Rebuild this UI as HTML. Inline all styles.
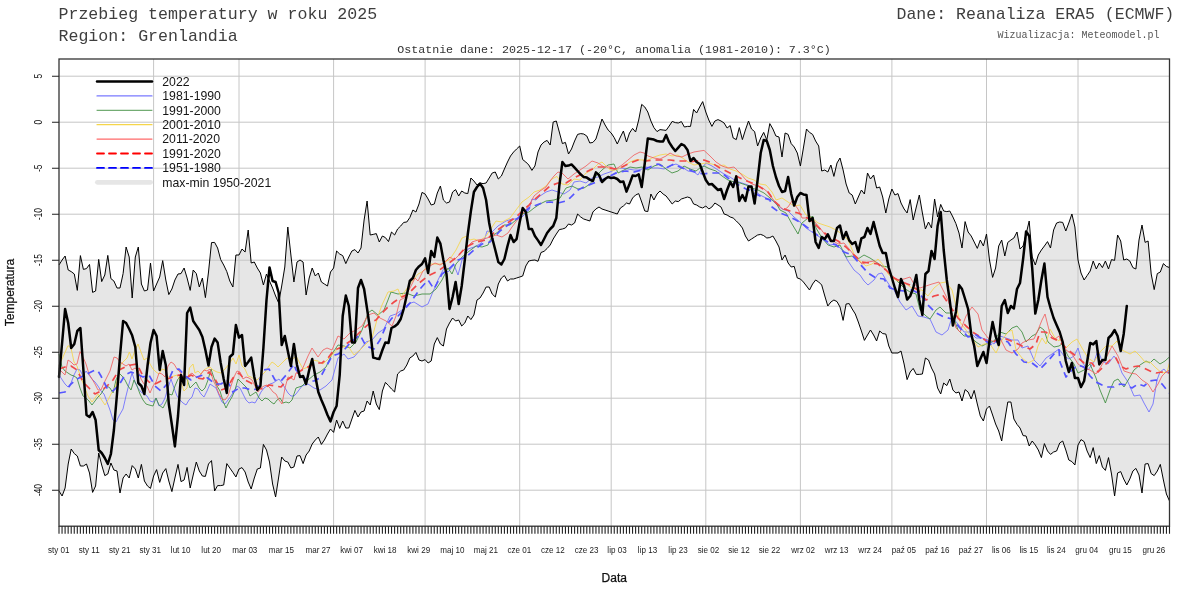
<!DOCTYPE html>
<html lang="pl"><head><meta charset="utf-8"><title>Przebieg temperatury w roku 2025 - Grenlandia</title>
<style>html,body{margin:0;padding:0;background:#fff}svg{display:block;will-change:transform}</style></head>
<body>
<svg width="1200" height="600" viewBox="0 0 1200 600">
<rect x="0" y="0" width="1200" height="600" fill="#ffffff"/>
<polygon points="59.0,265.0 62.1,260.0 65.1,256.0 68.2,270.0 71.2,271.6 74.3,274.0 77.3,290.4 80.4,255.6 83.4,269.4 86.5,268.6 89.5,264.4 92.6,292.4 95.6,291.0 98.7,259.4 101.7,281.6 104.8,275.0 107.8,255.4 110.9,278.6 113.9,281.0 117.0,288.0 120.0,288.0 123.1,273.6 126.1,247.0 129.2,257.0 132.2,298.0 135.3,257.0 138.3,247.0 141.4,284.0 144.4,291.0 147.5,290.0 150.5,263.0 153.6,291.0 156.6,284.0 159.7,277.0 162.7,260.6 165.8,280.0 168.8,294.6 171.9,289.0 174.9,280.0 178.0,274.0 181.0,273.6 184.1,268.0 187.1,278.0 190.2,290.4 193.2,270.0 196.3,273.6 199.3,287.0 202.4,278.0 205.4,297.6 208.5,272.0 211.5,242.6 214.6,242.4 217.6,248.0 220.7,259.6 223.7,265.0 226.8,271.6 229.8,281.0 232.9,287.0 235.9,255.0 239.0,255.0 242.0,249.0 245.1,252.0 248.2,230.0 251.2,263.0 254.3,262.0 257.3,268.0 260.4,273.0 263.4,285.0 266.5,274.0 269.5,281.0 272.6,288.0 275.6,296.0 278.7,303.0 281.7,286.0 284.8,267.0 287.8,227.0 290.9,255.0 293.9,282.0 297.0,262.0 300.0,260.0 303.1,262.0 306.1,295.0 309.2,278.0 312.2,268.0 315.3,276.0 318.3,273.0 321.4,282.0 324.4,284.0 327.5,286.0 330.5,272.0 333.6,268.0 336.6,251.0 339.7,254.0 342.7,255.6 345.8,263.6 348.8,257.0 351.9,251.0 354.9,249.6 358.0,253.0 361.0,248.0 364.1,220.0 367.1,201.0 370.2,235.0 373.2,234.4 376.3,233.6 379.3,242.0 382.4,236.0 385.4,237.6 388.5,241.6 391.5,232.0 394.6,235.0 397.6,229.0 400.7,226.0 403.7,222.4 406.8,222.0 409.8,217.6 412.9,210.0 415.9,212.0 419.0,204.0 422.0,192.4 425.1,194.0 428.1,199.0 431.2,205.0 434.3,204.0 437.3,193.0 440.4,186.0 443.4,200.0 446.5,203.0 449.5,202.0 452.6,192.0 455.6,189.6 458.7,196.0 461.7,191.0 464.8,193.0 467.8,193.6 470.9,178.0 473.9,181.0 477.0,185.0 480.0,183.0 483.1,183.6 486.1,183.0 489.2,178.0 492.2,173.0 495.3,172.0 498.3,179.0 501.4,176.0 504.4,169.0 507.5,162.0 510.5,156.0 513.6,152.0 516.6,149.0 519.7,146.0 522.7,159.6 525.8,162.0 528.8,165.0 531.9,170.4 534.9,166.0 538.0,152.0 541.0,145.0 544.1,142.0 547.1,140.4 550.2,145.0 553.2,122.0 556.3,121.0 559.3,132.0 562.4,143.6 565.4,142.4 568.5,154.0 571.5,149.0 574.6,141.0 577.6,134.4 580.7,133.6 583.7,134.0 586.8,136.0 589.8,143.0 592.9,142.4 595.9,139.0 599.0,129.0 602.0,119.0 605.1,125.0 608.1,130.0 611.2,133.0 614.2,137.6 617.3,144.0 620.4,137.0 623.4,131.0 626.5,142.0 629.5,133.0 632.6,128.4 635.6,132.0 638.7,120.0 641.7,104.4 644.8,107.0 647.8,112.0 650.9,121.0 653.9,127.6 657.0,131.6 660.0,129.6 663.1,130.0 666.1,130.4 669.2,126.0 672.2,121.4 675.3,122.6 678.3,123.0 681.4,121.6 684.4,127.0 687.5,126.4 690.5,126.4 693.6,109.4 696.6,113.0 699.7,107.0 702.7,101.6 705.8,112.0 708.8,120.0 711.9,126.4 714.9,121.0 718.0,119.6 721.0,121.0 724.1,123.0 727.1,128.0 730.2,125.6 733.2,138.0 736.3,139.6 739.3,127.6 742.4,139.6 745.4,130.0 748.5,121.0 751.5,129.0 754.6,131.6 757.6,146.0 760.7,138.0 763.7,132.4 766.8,140.0 769.8,123.6 772.9,129.0 775.9,136.0 779.0,137.0 782.0,157.0 785.1,133.0 788.1,134.4 791.2,143.6 794.2,147.0 797.3,153.0 800.4,166.0 803.4,148.0 806.5,129.0 809.5,132.4 812.6,134.4 815.6,141.0 818.7,146.0 821.7,171.0 824.8,170.0 827.8,172.0 830.9,165.0 833.9,176.4 837.0,163.0 840.0,158.0 843.1,170.0 846.1,184.0 849.2,193.0 852.2,195.0 855.3,204.0 858.3,197.0 861.4,190.0 864.4,194.0 867.5,173.0 870.5,179.0 873.6,175.0 876.6,188.0 879.7,187.0 882.7,197.0 885.8,213.0 888.8,199.0 891.9,189.0 894.9,195.0 898.0,193.6 901.0,203.0 904.1,209.0 907.1,213.0 910.2,199.6 913.2,220.0 916.3,207.0 919.3,195.0 922.4,213.0 925.4,229.0 928.5,222.0 931.5,228.0 934.6,199.0 937.6,217.0 940.7,204.4 943.7,211.0 946.8,211.6 949.8,211.0 952.9,217.0 955.9,223.6 959.0,233.0 962.0,248.0 965.1,221.6 968.1,232.0 971.2,236.0 974.2,242.0 977.3,248.4 980.3,240.0 983.4,246.0 986.5,234.0 989.5,260.0 992.6,277.4 995.6,268.0 998.7,246.0 1001.7,240.0 1004.8,256.0 1007.8,242.4 1010.9,240.0 1013.9,238.0 1017.0,232.0 1020.0,249.0 1023.1,246.0 1026.1,234.0 1029.2,221.0 1032.2,257.0 1035.3,265.0 1038.3,255.0 1041.4,250.0 1044.4,246.0 1047.5,241.6 1050.5,248.0 1053.6,230.0 1056.6,223.0 1059.7,222.0 1062.7,222.4 1065.8,231.0 1068.8,223.0 1071.9,214.0 1074.9,227.0 1078.0,260.0 1081.0,273.0 1084.1,280.0 1087.1,275.6 1090.2,271.0 1093.2,261.0 1096.3,269.0 1099.3,263.0 1102.4,267.6 1105.4,261.0 1108.5,269.0 1111.5,259.6 1114.6,260.4 1117.6,235.0 1120.7,241.0 1123.7,260.0 1126.8,259.0 1129.8,261.0 1132.9,267.6 1135.9,269.0 1139.0,240.0 1142.0,225.0 1145.1,242.4 1148.1,241.0 1151.2,274.0 1154.2,289.6 1157.3,273.6 1160.3,272.0 1163.4,263.6 1166.4,266.4 1169.5,267.6 1169.5,501.0 1166.4,494.0 1163.4,480.0 1160.3,464.4 1157.3,471.0 1154.2,475.6 1151.2,473.6 1148.1,463.6 1145.1,464.0 1142.0,493.0 1139.0,475.0 1135.9,468.4 1132.9,471.0 1129.8,479.0 1126.8,485.0 1123.7,479.0 1120.7,471.6 1117.6,473.0 1114.6,496.0 1111.5,474.0 1108.5,457.6 1105.4,470.4 1102.4,467.0 1099.3,455.6 1096.3,463.6 1093.2,447.6 1090.2,457.6 1087.1,451.0 1084.1,441.6 1081.0,439.6 1078.0,445.0 1074.9,465.0 1071.9,461.6 1068.8,460.0 1065.8,450.0 1062.7,441.0 1059.7,443.0 1056.6,451.0 1053.6,452.0 1050.5,454.4 1047.5,451.0 1044.4,443.6 1041.4,457.6 1038.3,450.0 1035.3,445.0 1032.2,441.0 1029.2,446.0 1026.1,436.0 1023.1,435.6 1020.0,428.0 1017.0,424.4 1013.9,419.0 1010.9,402.0 1007.8,402.0 1004.8,420.0 1001.7,441.0 998.7,431.0 995.6,424.0 992.6,415.0 989.5,406.0 986.5,409.0 983.4,421.0 980.3,416.0 977.3,404.0 974.2,390.4 971.2,399.0 968.1,392.0 965.1,389.6 962.0,401.0 959.0,392.0 955.9,393.0 952.9,390.0 949.8,379.0 946.8,385.6 943.7,383.0 940.7,394.0 937.6,388.0 934.6,374.0 931.5,368.0 928.5,360.0 925.4,358.0 922.4,374.0 919.3,374.4 916.3,374.4 913.2,368.4 910.2,372.0 907.1,379.6 904.1,364.0 901.0,351.0 898.0,353.0 894.9,353.0 891.9,353.0 888.8,346.0 885.8,334.0 882.7,333.6 879.7,331.0 876.6,341.0 873.6,335.0 870.5,330.0 867.5,335.0 864.4,340.4 861.4,331.0 858.3,322.0 855.3,314.0 852.2,309.0 849.2,303.6 846.1,304.0 843.1,320.4 840.0,307.0 837.0,301.6 833.9,300.0 830.9,302.0 827.8,306.0 824.8,296.0 821.7,285.0 818.7,282.0 815.6,280.0 812.6,284.0 809.5,290.0 806.5,286.0 803.4,282.0 800.4,279.0 797.3,278.0 794.2,266.4 791.2,267.0 788.1,263.0 785.1,255.0 782.0,260.0 779.0,247.0 775.9,241.0 772.9,236.0 769.8,237.6 766.8,238.0 763.7,235.6 760.7,234.4 757.6,235.0 754.6,237.0 751.5,239.0 748.5,241.0 745.4,236.0 742.4,228.0 739.3,224.0 736.3,221.0 733.2,218.0 730.2,217.0 727.1,215.0 724.1,214.0 721.0,207.0 718.0,205.0 714.9,203.0 711.9,207.0 708.8,209.0 705.8,206.0 702.7,208.0 699.7,207.0 696.6,205.0 693.6,204.0 690.5,198.0 687.5,197.0 684.4,198.0 681.4,199.0 678.3,201.6 675.3,201.0 672.2,204.0 669.2,200.0 666.1,196.0 663.1,194.0 660.0,191.0 657.0,194.0 653.9,200.0 650.9,194.0 647.8,211.6 644.8,211.0 641.7,202.0 638.7,193.6 635.6,195.0 632.6,198.0 629.5,204.0 626.5,203.0 623.4,206.0 620.4,208.0 617.3,214.0 614.2,213.0 611.2,212.0 608.1,211.0 605.1,210.0 602.0,209.0 599.0,207.0 595.9,209.0 592.9,212.0 589.8,221.0 586.8,220.0 583.7,219.0 580.7,217.0 577.6,214.0 574.6,223.0 571.5,225.0 568.5,224.0 565.4,228.0 562.4,229.0 559.3,229.6 556.3,234.0 553.2,239.0 550.2,245.0 547.1,248.5 544.1,251.3 541.0,252.5 538.0,261.3 534.9,260.0 531.9,260.3 528.8,261.0 525.8,266.0 522.7,276.0 519.7,277.0 516.6,278.0 513.6,279.0 510.5,279.0 507.5,281.0 504.4,275.6 501.4,278.0 498.3,284.0 495.3,297.0 492.2,294.0 489.2,287.0 486.1,287.0 483.1,293.0 480.0,298.0 477.0,300.0 473.9,315.0 470.9,319.6 467.8,316.0 464.8,323.0 461.7,326.0 458.7,320.0 455.6,321.0 452.6,318.0 449.5,323.0 446.5,329.0 443.4,346.0 440.4,344.0 437.3,337.6 434.3,344.0 431.2,361.0 428.1,363.0 425.1,359.6 422.0,361.0 419.0,360.0 415.9,352.4 412.9,356.0 409.8,358.0 406.8,365.0 403.7,370.0 400.7,371.0 397.6,374.0 394.6,392.0 391.5,389.0 388.5,385.6 385.4,382.4 382.4,391.0 379.3,409.6 376.3,404.0 373.2,391.0 370.2,405.0 367.1,401.0 364.1,411.0 361.0,412.0 358.0,417.0 354.9,410.4 351.9,419.0 348.8,428.0 345.8,428.0 342.7,421.0 339.7,428.4 336.6,420.0 333.6,432.4 330.5,429.0 327.5,434.0 324.4,440.0 321.4,444.4 318.3,437.0 315.3,440.0 312.2,444.0 309.2,451.0 306.1,455.0 303.1,463.6 300.0,455.6 297.0,456.0 293.9,467.0 290.9,468.0 287.8,462.0 284.8,461.0 281.7,457.0 278.7,477.0 275.6,497.0 272.6,484.0 269.5,462.0 266.5,450.0 263.4,444.4 260.4,468.0 257.3,469.0 254.3,478.0 251.2,489.0 248.2,482.0 245.1,472.0 242.0,467.6 239.0,469.0 235.9,477.0 232.9,472.4 229.8,468.0 226.8,463.6 223.7,485.0 220.7,485.6 217.6,485.6 214.6,491.0 211.5,460.6 208.5,464.0 205.4,476.4 202.4,476.0 199.3,471.0 196.3,462.0 193.2,475.0 190.2,488.0 187.1,467.4 184.1,480.0 181.0,481.6 178.0,464.4 174.9,478.0 171.9,491.6 168.8,481.0 165.8,468.6 162.7,473.0 159.7,482.4 156.6,469.6 153.6,476.0 150.5,488.4 147.5,486.0 144.4,481.0 141.4,464.4 138.3,478.0 135.3,469.0 132.2,465.6 129.2,478.0 126.1,474.0 123.1,478.0 120.0,493.0 117.0,471.0 113.9,470.0 110.9,463.0 107.8,474.0 104.8,475.6 101.7,465.0 98.7,453.0 95.6,486.0 92.6,492.4 89.5,473.0 86.5,464.0 83.4,466.0 80.4,466.0 77.3,456.0 74.3,453.6 71.2,449.0 68.2,464.0 65.1,488.0 62.1,496.0 59.0,491.0" fill="#e6e6e6" stroke="none"/>
<path d="M59.0 76.2H1169.5M59.0 122.2H1169.5M59.0 168.2H1169.5M59.0 214.2H1169.5M59.0 260.2H1169.5M59.0 306.2H1169.5M59.0 352.2H1169.5M59.0 398.2H1169.5M59.0 444.2H1169.5M59.0 490.2H1169.5M153.6 59.0V526.2M239.0 59.0V526.2M333.6 59.0V526.2M425.1 59.0V526.2M519.7 59.0V526.2M611.2 59.0V526.2M705.8 59.0V526.2M800.4 59.0V526.2M891.9 59.0V526.2M986.5 59.0V526.2M1078.0 59.0V526.2" stroke="#c6c6c6" stroke-width="1" fill="none"/>
<polyline points="59.0,265.0 62.1,260.0 65.1,256.0 68.2,270.0 71.2,271.6 74.3,274.0 77.3,290.4 80.4,255.6 83.4,269.4 86.5,268.6 89.5,264.4 92.6,292.4 95.6,291.0 98.7,259.4 101.7,281.6 104.8,275.0 107.8,255.4 110.9,278.6 113.9,281.0 117.0,288.0 120.0,288.0 123.1,273.6 126.1,247.0 129.2,257.0 132.2,298.0 135.3,257.0 138.3,247.0 141.4,284.0 144.4,291.0 147.5,290.0 150.5,263.0 153.6,291.0 156.6,284.0 159.7,277.0 162.7,260.6 165.8,280.0 168.8,294.6 171.9,289.0 174.9,280.0 178.0,274.0 181.0,273.6 184.1,268.0 187.1,278.0 190.2,290.4 193.2,270.0 196.3,273.6 199.3,287.0 202.4,278.0 205.4,297.6 208.5,272.0 211.5,242.6 214.6,242.4 217.6,248.0 220.7,259.6 223.7,265.0 226.8,271.6 229.8,281.0 232.9,287.0 235.9,255.0 239.0,255.0 242.0,249.0 245.1,252.0 248.2,230.0 251.2,263.0 254.3,262.0 257.3,268.0 260.4,273.0 263.4,285.0 266.5,274.0 269.5,281.0 272.6,288.0 275.6,296.0 278.7,303.0 281.7,286.0 284.8,267.0 287.8,227.0 290.9,255.0 293.9,282.0 297.0,262.0 300.0,260.0 303.1,262.0 306.1,295.0 309.2,278.0 312.2,268.0 315.3,276.0 318.3,273.0 321.4,282.0 324.4,284.0 327.5,286.0 330.5,272.0 333.6,268.0 336.6,251.0 339.7,254.0 342.7,255.6 345.8,263.6 348.8,257.0 351.9,251.0 354.9,249.6 358.0,253.0 361.0,248.0 364.1,220.0 367.1,201.0 370.2,235.0 373.2,234.4 376.3,233.6 379.3,242.0 382.4,236.0 385.4,237.6 388.5,241.6 391.5,232.0 394.6,235.0 397.6,229.0 400.7,226.0 403.7,222.4 406.8,222.0 409.8,217.6 412.9,210.0 415.9,212.0 419.0,204.0 422.0,192.4 425.1,194.0 428.1,199.0 431.2,205.0 434.3,204.0 437.3,193.0 440.4,186.0 443.4,200.0 446.5,203.0 449.5,202.0 452.6,192.0 455.6,189.6 458.7,196.0 461.7,191.0 464.8,193.0 467.8,193.6 470.9,178.0 473.9,181.0 477.0,185.0 480.0,183.0 483.1,183.6 486.1,183.0 489.2,178.0 492.2,173.0 495.3,172.0 498.3,179.0 501.4,176.0 504.4,169.0 507.5,162.0 510.5,156.0 513.6,152.0 516.6,149.0 519.7,146.0 522.7,159.6 525.8,162.0 528.8,165.0 531.9,170.4 534.9,166.0 538.0,152.0 541.0,145.0 544.1,142.0 547.1,140.4 550.2,145.0 553.2,122.0 556.3,121.0 559.3,132.0 562.4,143.6 565.4,142.4 568.5,154.0 571.5,149.0 574.6,141.0 577.6,134.4 580.7,133.6 583.7,134.0 586.8,136.0 589.8,143.0 592.9,142.4 595.9,139.0 599.0,129.0 602.0,119.0 605.1,125.0 608.1,130.0 611.2,133.0 614.2,137.6 617.3,144.0 620.4,137.0 623.4,131.0 626.5,142.0 629.5,133.0 632.6,128.4 635.6,132.0 638.7,120.0 641.7,104.4 644.8,107.0 647.8,112.0 650.9,121.0 653.9,127.6 657.0,131.6 660.0,129.6 663.1,130.0 666.1,130.4 669.2,126.0 672.2,121.4 675.3,122.6 678.3,123.0 681.4,121.6 684.4,127.0 687.5,126.4 690.5,126.4 693.6,109.4 696.6,113.0 699.7,107.0 702.7,101.6 705.8,112.0 708.8,120.0 711.9,126.4 714.9,121.0 718.0,119.6 721.0,121.0 724.1,123.0 727.1,128.0 730.2,125.6 733.2,138.0 736.3,139.6 739.3,127.6 742.4,139.6 745.4,130.0 748.5,121.0 751.5,129.0 754.6,131.6 757.6,146.0 760.7,138.0 763.7,132.4 766.8,140.0 769.8,123.6 772.9,129.0 775.9,136.0 779.0,137.0 782.0,157.0 785.1,133.0 788.1,134.4 791.2,143.6 794.2,147.0 797.3,153.0 800.4,166.0 803.4,148.0 806.5,129.0 809.5,132.4 812.6,134.4 815.6,141.0 818.7,146.0 821.7,171.0 824.8,170.0 827.8,172.0 830.9,165.0 833.9,176.4 837.0,163.0 840.0,158.0 843.1,170.0 846.1,184.0 849.2,193.0 852.2,195.0 855.3,204.0 858.3,197.0 861.4,190.0 864.4,194.0 867.5,173.0 870.5,179.0 873.6,175.0 876.6,188.0 879.7,187.0 882.7,197.0 885.8,213.0 888.8,199.0 891.9,189.0 894.9,195.0 898.0,193.6 901.0,203.0 904.1,209.0 907.1,213.0 910.2,199.6 913.2,220.0 916.3,207.0 919.3,195.0 922.4,213.0 925.4,229.0 928.5,222.0 931.5,228.0 934.6,199.0 937.6,217.0 940.7,204.4 943.7,211.0 946.8,211.6 949.8,211.0 952.9,217.0 955.9,223.6 959.0,233.0 962.0,248.0 965.1,221.6 968.1,232.0 971.2,236.0 974.2,242.0 977.3,248.4 980.3,240.0 983.4,246.0 986.5,234.0 989.5,260.0 992.6,277.4 995.6,268.0 998.7,246.0 1001.7,240.0 1004.8,256.0 1007.8,242.4 1010.9,240.0 1013.9,238.0 1017.0,232.0 1020.0,249.0 1023.1,246.0 1026.1,234.0 1029.2,221.0 1032.2,257.0 1035.3,265.0 1038.3,255.0 1041.4,250.0 1044.4,246.0 1047.5,241.6 1050.5,248.0 1053.6,230.0 1056.6,223.0 1059.7,222.0 1062.7,222.4 1065.8,231.0 1068.8,223.0 1071.9,214.0 1074.9,227.0 1078.0,260.0 1081.0,273.0 1084.1,280.0 1087.1,275.6 1090.2,271.0 1093.2,261.0 1096.3,269.0 1099.3,263.0 1102.4,267.6 1105.4,261.0 1108.5,269.0 1111.5,259.6 1114.6,260.4 1117.6,235.0 1120.7,241.0 1123.7,260.0 1126.8,259.0 1129.8,261.0 1132.9,267.6 1135.9,269.0 1139.0,240.0 1142.0,225.0 1145.1,242.4 1148.1,241.0 1151.2,274.0 1154.2,289.6 1157.3,273.6 1160.3,272.0 1163.4,263.6 1166.4,266.4 1169.5,267.6" fill="none" stroke="#000" stroke-width="1" stroke-linejoin="round"/>
<polyline points="59.0,491.0 62.1,496.0 65.1,488.0 68.2,464.0 71.2,449.0 74.3,453.6 77.3,456.0 80.4,466.0 83.4,466.0 86.5,464.0 89.5,473.0 92.6,492.4 95.6,486.0 98.7,453.0 101.7,465.0 104.8,475.6 107.8,474.0 110.9,463.0 113.9,470.0 117.0,471.0 120.0,493.0 123.1,478.0 126.1,474.0 129.2,478.0 132.2,465.6 135.3,469.0 138.3,478.0 141.4,464.4 144.4,481.0 147.5,486.0 150.5,488.4 153.6,476.0 156.6,469.6 159.7,482.4 162.7,473.0 165.8,468.6 168.8,481.0 171.9,491.6 174.9,478.0 178.0,464.4 181.0,481.6 184.1,480.0 187.1,467.4 190.2,488.0 193.2,475.0 196.3,462.0 199.3,471.0 202.4,476.0 205.4,476.4 208.5,464.0 211.5,460.6 214.6,491.0 217.6,485.6 220.7,485.6 223.7,485.0 226.8,463.6 229.8,468.0 232.9,472.4 235.9,477.0 239.0,469.0 242.0,467.6 245.1,472.0 248.2,482.0 251.2,489.0 254.3,478.0 257.3,469.0 260.4,468.0 263.4,444.4 266.5,450.0 269.5,462.0 272.6,484.0 275.6,497.0 278.7,477.0 281.7,457.0 284.8,461.0 287.8,462.0 290.9,468.0 293.9,467.0 297.0,456.0 300.0,455.6 303.1,463.6 306.1,455.0 309.2,451.0 312.2,444.0 315.3,440.0 318.3,437.0 321.4,444.4 324.4,440.0 327.5,434.0 330.5,429.0 333.6,432.4 336.6,420.0 339.7,428.4 342.7,421.0 345.8,428.0 348.8,428.0 351.9,419.0 354.9,410.4 358.0,417.0 361.0,412.0 364.1,411.0 367.1,401.0 370.2,405.0 373.2,391.0 376.3,404.0 379.3,409.6 382.4,391.0 385.4,382.4 388.5,385.6 391.5,389.0 394.6,392.0 397.6,374.0 400.7,371.0 403.7,370.0 406.8,365.0 409.8,358.0 412.9,356.0 415.9,352.4 419.0,360.0 422.0,361.0 425.1,359.6 428.1,363.0 431.2,361.0 434.3,344.0 437.3,337.6 440.4,344.0 443.4,346.0 446.5,329.0 449.5,323.0 452.6,318.0 455.6,321.0 458.7,320.0 461.7,326.0 464.8,323.0 467.8,316.0 470.9,319.6 473.9,315.0 477.0,300.0 480.0,298.0 483.1,293.0 486.1,287.0 489.2,287.0 492.2,294.0 495.3,297.0 498.3,284.0 501.4,278.0 504.4,275.6 507.5,281.0 510.5,279.0 513.6,279.0 516.6,278.0 519.7,277.0 522.7,276.0 525.8,266.0 528.8,261.0 531.9,260.3 534.9,260.0 538.0,261.3 541.0,252.5 544.1,251.3 547.1,248.5 550.2,245.0 553.2,239.0 556.3,234.0 559.3,229.6 562.4,229.0 565.4,228.0 568.5,224.0 571.5,225.0 574.6,223.0 577.6,214.0 580.7,217.0 583.7,219.0 586.8,220.0 589.8,221.0 592.9,212.0 595.9,209.0 599.0,207.0 602.0,209.0 605.1,210.0 608.1,211.0 611.2,212.0 614.2,213.0 617.3,214.0 620.4,208.0 623.4,206.0 626.5,203.0 629.5,204.0 632.6,198.0 635.6,195.0 638.7,193.6 641.7,202.0 644.8,211.0 647.8,211.6 650.9,194.0 653.9,200.0 657.0,194.0 660.0,191.0 663.1,194.0 666.1,196.0 669.2,200.0 672.2,204.0 675.3,201.0 678.3,201.6 681.4,199.0 684.4,198.0 687.5,197.0 690.5,198.0 693.6,204.0 696.6,205.0 699.7,207.0 702.7,208.0 705.8,206.0 708.8,209.0 711.9,207.0 714.9,203.0 718.0,205.0 721.0,207.0 724.1,214.0 727.1,215.0 730.2,217.0 733.2,218.0 736.3,221.0 739.3,224.0 742.4,228.0 745.4,236.0 748.5,241.0 751.5,239.0 754.6,237.0 757.6,235.0 760.7,234.4 763.7,235.6 766.8,238.0 769.8,237.6 772.9,236.0 775.9,241.0 779.0,247.0 782.0,260.0 785.1,255.0 788.1,263.0 791.2,267.0 794.2,266.4 797.3,278.0 800.4,279.0 803.4,282.0 806.5,286.0 809.5,290.0 812.6,284.0 815.6,280.0 818.7,282.0 821.7,285.0 824.8,296.0 827.8,306.0 830.9,302.0 833.9,300.0 837.0,301.6 840.0,307.0 843.1,320.4 846.1,304.0 849.2,303.6 852.2,309.0 855.3,314.0 858.3,322.0 861.4,331.0 864.4,340.4 867.5,335.0 870.5,330.0 873.6,335.0 876.6,341.0 879.7,331.0 882.7,333.6 885.8,334.0 888.8,346.0 891.9,353.0 894.9,353.0 898.0,353.0 901.0,351.0 904.1,364.0 907.1,379.6 910.2,372.0 913.2,368.4 916.3,374.4 919.3,374.4 922.4,374.0 925.4,358.0 928.5,360.0 931.5,368.0 934.6,374.0 937.6,388.0 940.7,394.0 943.7,383.0 946.8,385.6 949.8,379.0 952.9,390.0 955.9,393.0 959.0,392.0 962.0,401.0 965.1,389.6 968.1,392.0 971.2,399.0 974.2,390.4 977.3,404.0 980.3,416.0 983.4,421.0 986.5,409.0 989.5,406.0 992.6,415.0 995.6,424.0 998.7,431.0 1001.7,441.0 1004.8,420.0 1007.8,402.0 1010.9,402.0 1013.9,419.0 1017.0,424.4 1020.0,428.0 1023.1,435.6 1026.1,436.0 1029.2,446.0 1032.2,441.0 1035.3,445.0 1038.3,450.0 1041.4,457.6 1044.4,443.6 1047.5,451.0 1050.5,454.4 1053.6,452.0 1056.6,451.0 1059.7,443.0 1062.7,441.0 1065.8,450.0 1068.8,460.0 1071.9,461.6 1074.9,465.0 1078.0,445.0 1081.0,439.6 1084.1,441.6 1087.1,451.0 1090.2,457.6 1093.2,447.6 1096.3,463.6 1099.3,455.6 1102.4,467.0 1105.4,470.4 1108.5,457.6 1111.5,474.0 1114.6,496.0 1117.6,473.0 1120.7,471.6 1123.7,479.0 1126.8,485.0 1129.8,479.0 1132.9,471.0 1135.9,468.4 1139.0,475.0 1142.0,493.0 1145.1,464.0 1148.1,463.6 1151.2,473.6 1154.2,475.6 1157.3,471.0 1160.3,464.4 1163.4,480.0 1166.4,494.0 1169.5,501.0" fill="none" stroke="#000" stroke-width="1" stroke-linejoin="round"/>
<polyline points="59.0,375.0 65.0,384.0 68.0,387.0 71.0,383.0 74.0,375.0 77.0,369.0 80.0,370.0 83.0,376.0 86.0,371.0 89.0,375.0 92.0,379.0 95.0,382.0 98.0,386.0 101.0,391.0 104.0,394.0 107.0,402.0 110.0,410.0 113.0,420.0 116.0,422.0 119.0,416.0 123.0,409.0 126.0,396.0 129.0,384.0 132.0,373.0 135.0,382.0 138.0,388.0 141.0,392.0 144.0,394.0 147.0,396.0 150.0,401.0 153.0,402.0 156.0,398.0 159.0,406.0 162.0,404.0 165.0,398.0 168.0,388.0 171.0,379.0 174.0,388.0 177.0,396.0 180.0,400.0 183.0,403.0 186.0,405.0 189.0,400.0 192.0,397.0 195.0,388.0 198.0,389.0 201.0,394.0 204.0,397.0 207.0,391.0 210.0,384.0 213.0,386.0 216.0,388.0 219.0,395.0 222.0,402.0 225.0,404.0 228.0,400.0 231.0,396.0 234.0,391.0 237.0,386.0 240.0,388.0 243.0,394.0 246.0,400.0 249.0,403.0 252.0,402.0 255.0,403.0 258.0,398.0 261.0,392.0 264.0,388.0 267.0,386.0 270.0,384.0 273.0,383.0 276.0,381.0 279.0,379.0 282.0,383.0 285.0,388.0 288.0,393.0 291.0,396.0 294.0,396.0 296.0,394.0 302.0,386.0 308.0,384.0 314.0,388.0 320.0,390.0 326.0,386.0 332.0,380.0 338.0,358.0 344.0,354.0 348.0,359.0 354.0,357.0 360.0,350.0 366.0,342.0 372.0,340.0 378.0,333.0 384.0,329.0 390.0,316.0 396.0,314.0 402.0,310.0 408.0,304.0 414.0,302.0 422.0,307.0 428.0,304.0 432.0,294.0 438.0,280.0 444.0,268.0 448.0,272.0 454.0,265.0 458.0,275.0 462.0,260.0 468.0,249.0 474.0,247.0 480.0,244.0 485.0,238.0 487.0,231.0 492.0,232.0 498.0,226.0 506.0,221.0 512.0,219.0 520.0,219.0 529.0,210.0 532.0,199.0 536.0,200.0 540.0,196.0 546.0,192.0 552.0,190.0 558.0,192.0 564.0,194.0 570.0,190.0 574.0,182.0 580.0,181.0 586.0,183.0 592.0,178.0 598.0,177.0 604.0,174.0 610.0,172.0 616.0,169.0 622.0,168.0 628.0,169.0 634.0,170.0 640.0,170.0 646.0,167.0 652.0,168.0 658.0,168.0 664.0,169.0 670.0,166.0 676.0,164.0 682.0,167.0 688.0,171.0 694.0,172.0 698.0,175.0 702.0,168.0 706.0,163.0 712.0,166.0 718.0,170.0 724.0,174.0 730.0,177.0 736.0,181.0 742.0,183.0 748.0,185.0 754.0,190.0 760.0,195.0 766.0,198.0 772.0,200.0 776.0,204.0 782.0,209.0 788.0,211.0 794.0,217.0 800.0,222.0 806.0,228.0 812.0,232.0 818.0,236.0 824.0,240.0 830.0,245.0 836.0,244.0 842.0,250.0 848.0,261.0 854.0,270.0 860.0,275.0 864.0,281.0 868.0,285.0 874.0,280.0 878.0,274.0 882.0,273.0 886.0,280.0 890.0,286.0 894.0,290.0 900.0,302.0 906.0,310.0 912.0,306.0 918.0,316.0 924.0,317.0 930.0,319.0 936.0,332.0 942.0,335.0 948.0,330.0 952.0,317.0 958.0,324.0 964.0,332.0 970.0,332.0 976.0,338.0 982.0,338.0 988.0,340.0 994.0,344.0 1000.0,336.0 1006.0,338.0 1012.0,340.0 1018.0,340.0 1022.0,348.0 1028.0,346.0 1034.0,360.0 1040.0,366.0 1046.0,358.0 1052.0,354.0 1059.0,349.0 1064.0,356.0 1069.0,359.0 1074.0,356.0 1078.0,348.0 1082.0,362.0 1088.0,370.0 1094.0,362.0 1098.0,350.0 1102.0,361.0 1108.0,364.0 1114.0,356.0 1118.0,362.0 1122.0,373.0 1128.0,382.0 1134.0,396.0 1140.0,395.0 1144.0,403.0 1149.0,412.0 1153.0,404.0 1157.0,380.0 1160.0,372.0 1164.0,369.0 1167.0,373.0 1169.4,371.0" fill="none" stroke="#6b6bff" stroke-width="0.85" stroke-linejoin="round"/>
<polyline points="59.0,354.0 62.0,367.0 65.0,371.0 68.0,373.0 71.0,375.0 74.0,376.0 77.0,378.0 80.0,388.0 83.0,396.0 86.0,398.0 89.0,401.0 92.0,405.0 95.0,401.0 98.0,397.0 101.0,394.0 104.0,389.0 107.0,386.0 110.0,388.0 113.0,393.0 116.0,380.0 119.0,373.0 122.0,376.0 125.0,380.0 128.0,386.0 131.0,390.0 134.0,380.0 137.0,386.0 140.0,394.0 143.0,400.0 146.0,404.0 149.0,405.0 153.0,406.0 156.0,398.0 159.0,405.0 163.0,408.0 166.0,402.0 169.0,394.0 172.0,395.0 175.0,386.0 178.0,379.0 181.0,376.0 184.0,377.0 187.0,379.0 190.0,388.0 193.0,385.0 196.0,382.0 199.0,388.0 202.0,391.0 205.0,388.0 208.0,380.0 211.0,369.0 214.0,378.0 217.0,386.0 220.0,391.0 223.0,401.0 226.0,408.0 229.0,402.0 232.0,397.0 235.0,390.0 238.0,379.0 241.0,382.0 244.0,385.0 247.0,388.0 250.0,396.0 253.0,394.0 256.0,392.0 259.0,398.0 262.0,401.0 265.0,398.0 268.0,399.0 271.0,402.0 274.0,404.0 277.0,400.0 280.0,398.0 283.0,403.0 286.0,402.0 289.0,403.0 292.0,400.0 294.0,394.0 296.0,388.0 302.0,386.0 308.0,380.0 314.0,375.0 320.0,372.0 326.0,367.0 332.0,354.0 338.0,345.0 344.0,346.0 350.0,348.0 356.0,342.0 362.0,330.0 368.0,313.0 372.0,310.0 378.0,315.0 384.0,310.0 388.0,300.0 391.0,292.0 398.0,294.0 406.0,293.0 414.0,296.0 422.0,294.0 430.0,294.0 436.0,289.0 442.0,280.0 448.0,268.0 452.0,274.0 456.0,264.0 462.0,257.0 468.0,252.0 476.0,246.0 482.0,247.0 488.0,245.0 492.0,236.0 498.0,232.0 504.0,225.0 510.0,225.0 516.0,220.0 522.0,214.0 529.0,212.0 534.0,208.0 540.0,204.0 546.0,201.0 554.0,200.0 560.0,198.0 566.0,188.0 572.0,186.0 578.0,189.0 584.0,188.0 590.0,184.0 596.0,176.0 602.0,170.0 608.0,165.0 614.0,164.0 618.0,173.0 624.0,170.0 630.0,167.0 636.0,168.0 642.0,167.0 648.0,170.0 654.0,166.0 660.0,164.0 666.0,169.0 672.0,173.0 678.0,171.0 684.0,166.0 690.0,169.0 696.0,171.0 700.0,168.0 704.0,166.0 710.0,169.0 716.0,171.0 722.0,176.0 728.0,180.0 734.0,182.0 740.0,183.0 746.0,185.0 752.0,188.0 758.0,190.0 764.0,193.0 770.0,198.0 776.0,203.0 780.0,210.0 786.0,213.0 792.0,224.0 798.0,234.0 802.0,223.0 808.0,218.0 813.0,216.4 816.0,228.0 822.0,238.0 828.0,245.0 834.0,247.0 840.0,245.0 846.0,257.0 852.0,256.0 858.0,259.0 864.0,255.0 870.0,258.0 876.0,262.0 882.0,266.0 888.0,267.0 892.0,276.0 898.0,282.0 904.0,288.0 910.0,292.0 916.0,294.0 920.0,310.0 926.0,316.0 930.0,319.0 936.0,310.0 940.0,307.0 946.0,313.0 952.0,313.0 958.0,330.0 964.0,336.0 970.0,336.0 976.0,342.0 982.0,346.0 988.0,343.0 994.0,341.0 1000.0,332.0 1006.0,334.0 1012.0,328.0 1017.0,326.0 1022.0,332.0 1026.0,342.0 1032.0,336.0 1036.0,334.0 1040.0,327.0 1044.0,330.0 1048.0,342.0 1054.0,347.0 1059.0,346.0 1062.0,344.0 1068.0,356.0 1074.0,364.0 1078.0,373.0 1084.0,370.0 1090.0,364.0 1096.0,378.0 1100.0,390.0 1105.4,403.0 1110.0,390.0 1114.0,381.0 1118.0,379.0 1124.0,387.0 1130.0,377.0 1134.0,370.0 1140.0,365.0 1146.0,361.0 1150.0,363.0 1154.0,359.0 1160.0,364.0 1165.0,361.0 1169.4,357.0" fill="none" stroke="#3c8c3c" stroke-width="0.85" stroke-linejoin="round"/>
<polyline points="59.0,366.0 68.0,345.6 71.0,348.0 74.0,362.0 77.0,366.0 81.0,378.0 85.0,388.0 88.0,396.0 92.0,402.0 95.0,398.0 98.0,394.0 101.0,399.0 105.0,405.0 108.0,400.0 111.0,394.0 115.0,388.0 118.0,378.0 121.0,364.0 124.0,361.0 127.0,358.0 129.4,352.0 132.0,359.0 135.0,350.0 138.0,344.0 141.0,352.0 144.0,360.0 147.0,358.0 150.0,364.0 153.0,369.0 156.0,372.0 159.0,374.0 162.0,369.0 165.0,370.0 168.0,377.0 171.0,377.0 174.0,376.0 177.0,375.0 180.0,380.0 184.0,391.0 187.0,388.0 189.4,368.0 193.0,364.0 195.0,373.0 198.0,371.0 201.0,374.0 204.0,370.0 207.0,368.0 210.0,367.0 213.0,370.0 217.0,372.0 221.0,373.0 225.0,369.0 229.0,364.0 233.0,358.0 236.0,364.0 239.0,355.0 242.0,366.0 245.0,369.0 248.0,376.0 251.0,377.0 254.0,379.0 257.0,380.0 261.0,376.0 265.0,372.0 269.0,366.0 272.0,362.0 275.0,364.0 278.0,367.0 281.0,364.0 284.0,361.0 287.0,358.0 291.0,360.0 294.0,358.0 296.0,356.0 303.0,369.0 308.0,367.0 312.0,360.0 318.0,361.0 323.0,364.0 328.0,359.0 333.0,354.0 338.0,348.0 343.0,347.0 348.0,346.0 354.0,355.0 360.0,350.0 366.0,344.0 372.0,338.0 378.0,316.0 382.0,305.0 388.0,292.0 394.0,291.0 398.0,289.0 401.0,297.0 410.0,284.0 418.0,274.0 422.0,272.0 430.0,264.0 442.0,264.0 450.0,259.0 456.0,250.0 462.0,238.0 466.0,236.4 470.0,240.0 474.0,239.0 480.0,241.0 486.0,236.0 490.0,230.0 496.0,221.0 502.0,222.0 510.0,218.0 516.0,210.0 522.0,202.0 529.0,197.0 534.0,192.0 540.0,190.0 546.0,186.0 552.0,179.0 557.0,176.4 562.0,184.0 568.0,185.0 574.0,179.0 580.0,180.0 586.0,173.0 592.0,170.0 598.0,164.0 602.0,162.0 608.0,168.0 612.0,171.0 618.0,169.0 624.0,166.0 630.0,162.0 636.0,159.6 642.0,160.0 648.0,160.0 654.0,157.0 660.0,155.0 666.0,154.0 672.0,156.0 678.0,155.0 684.0,159.0 688.0,162.0 694.0,165.0 700.0,164.0 706.0,163.0 712.0,164.0 718.0,166.0 724.0,165.0 730.0,169.0 736.0,171.0 742.0,174.0 748.0,178.0 754.0,180.0 760.0,184.0 766.0,185.0 772.0,192.0 776.0,200.0 782.0,198.0 788.0,202.0 794.0,206.0 800.0,205.0 806.0,215.0 812.0,218.0 818.0,223.0 824.0,225.0 830.0,227.0 836.0,230.0 842.0,234.0 848.0,240.0 854.0,254.0 860.0,261.0 866.0,266.0 872.0,264.0 878.0,259.0 884.0,266.0 888.0,274.0 894.0,279.0 900.0,282.0 906.0,284.0 912.0,288.0 918.0,290.0 922.0,290.0 928.0,296.0 934.0,288.0 940.0,283.0 946.0,282.0 952.0,290.0 956.0,306.0 960.0,322.0 966.0,330.0 972.0,338.0 978.0,347.0 984.0,344.0 990.0,344.0 996.0,353.0 1002.0,340.0 1008.0,332.0 1012.0,330.0 1016.0,350.0 1022.0,358.0 1028.0,363.0 1034.0,360.0 1038.0,346.0 1042.0,338.0 1046.0,344.0 1050.0,329.0 1055.0,338.0 1059.0,341.0 1060.0,339.0 1066.0,348.0 1072.0,342.0 1077.0,339.0 1082.0,348.0 1088.0,358.0 1094.0,362.0 1100.0,352.0 1106.0,346.0 1112.0,346.0 1117.0,341.0 1122.0,350.0 1130.0,354.0 1135.0,351.0 1140.0,356.0 1145.0,362.0 1150.0,362.0 1156.0,368.0 1162.0,373.0 1167.0,372.0 1169.4,363.0" fill="none" stroke="#f5d54a" stroke-width="0.85" stroke-linejoin="round"/>
<polyline points="59.0,369.0 62.0,372.0 65.0,375.0 68.0,360.0 71.0,362.0 74.0,365.0 77.0,364.0 80.0,351.6 83.0,357.0 86.0,364.0 89.0,374.0 92.0,379.0 95.0,384.0 98.0,390.0 101.0,390.0 104.0,383.0 107.0,377.0 110.0,371.0 114.0,357.0 117.0,358.0 120.0,362.0 123.0,364.0 126.0,366.0 129.0,364.0 132.0,370.0 135.0,368.0 138.0,370.0 141.0,379.0 144.0,384.0 147.0,386.0 150.0,393.0 153.0,386.0 156.0,382.0 159.0,373.0 162.0,374.0 165.0,377.0 168.0,366.0 171.0,362.0 174.0,364.0 177.0,369.0 180.0,372.0 183.0,377.0 186.0,378.0 189.0,375.0 192.0,373.0 195.0,376.0 198.0,378.0 201.0,374.0 204.0,370.0 207.0,371.0 210.0,369.0 213.0,380.0 216.0,386.0 219.0,394.0 222.0,399.0 225.0,400.0 228.0,396.0 231.0,386.0 234.0,377.0 237.0,371.0 240.0,372.0 243.0,379.0 246.0,377.0 249.0,378.0 252.0,380.0 255.0,386.0 258.0,392.0 261.0,388.0 264.0,386.0 267.0,385.0 270.0,388.0 273.0,392.0 276.0,394.0 279.0,400.0 282.0,404.0 285.0,388.0 288.0,377.0 291.0,378.0 294.0,380.0 296.0,373.0 302.0,370.0 308.0,356.0 312.0,348.0 318.0,357.0 323.0,350.0 327.0,348.0 332.0,350.0 338.0,336.0 344.0,339.0 350.0,333.0 356.0,330.0 362.0,326.0 368.0,315.0 374.0,313.0 380.0,318.0 386.0,321.0 392.0,326.0 396.0,316.0 400.0,300.0 404.0,298.0 410.0,288.0 415.0,278.0 418.0,281.0 423.0,271.0 430.0,266.0 435.0,263.0 440.0,265.0 445.0,262.0 450.0,257.0 454.0,260.0 460.0,254.0 466.0,248.0 472.0,242.0 478.0,240.0 484.0,239.0 490.0,237.0 496.0,235.0 502.0,237.0 508.0,233.0 512.0,227.0 518.0,219.0 524.0,212.0 529.0,206.0 534.0,196.0 540.0,191.0 546.0,187.0 550.0,181.0 554.0,176.0 558.0,172.0 562.0,173.0 568.0,179.0 574.0,174.0 580.0,170.0 586.0,166.0 592.0,161.0 598.0,163.0 604.0,167.0 610.0,167.0 616.0,169.0 622.0,165.0 628.0,160.0 634.0,155.0 640.0,152.0 644.0,153.0 648.0,156.0 654.0,158.0 660.0,159.0 666.0,156.0 670.0,153.0 676.0,156.0 682.0,157.0 688.0,154.0 694.0,152.0 700.0,151.0 704.0,150.4 710.0,156.0 716.0,162.0 722.0,166.0 728.0,168.0 734.0,167.0 740.0,173.0 746.0,180.0 752.0,184.0 758.0,186.0 764.0,189.0 770.0,194.0 772.0,198.0 778.0,205.0 784.0,210.0 788.0,207.0 792.0,201.0 798.0,209.0 802.0,218.0 808.0,218.0 814.0,221.0 820.0,228.0 826.0,236.0 832.0,240.0 838.0,244.0 844.0,243.0 850.0,250.0 856.0,258.0 862.0,264.0 868.0,262.0 874.0,261.0 880.0,265.0 886.0,270.0 892.0,276.0 898.0,280.0 904.0,279.0 910.0,277.0 914.0,284.0 920.0,288.0 926.0,286.0 932.0,284.0 939.0,282.0 942.0,288.0 948.0,300.0 952.0,314.0 956.0,328.0 960.0,332.0 966.0,316.0 972.0,307.0 978.0,314.0 982.0,330.0 988.0,338.0 994.0,342.0 1000.0,338.0 1006.0,350.0 1012.0,353.0 1018.0,349.0 1022.0,343.0 1028.0,340.0 1034.0,339.0 1038.0,330.0 1042.0,320.0 1045.0,314.0 1050.0,334.0 1055.0,339.0 1059.0,336.0 1060.0,339.0 1066.0,350.0 1072.0,354.0 1078.0,364.0 1084.0,368.0 1090.0,370.0 1096.0,374.0 1100.0,368.0 1106.0,358.0 1112.0,346.0 1118.0,356.0 1124.0,371.0 1130.0,373.0 1136.0,374.0 1142.0,380.0 1148.0,384.0 1153.0,392.0 1158.0,384.0 1162.0,376.0 1166.0,372.0 1169.4,370.0" fill="none" stroke="#f06060" stroke-width="0.85" stroke-linejoin="round"/>
<polyline points="59.0,369.0 65.0,367.0 71.0,366.0 77.0,370.0 83.0,382.0 89.0,388.0 95.0,394.0 101.0,391.0 107.0,386.0 113.0,380.0 119.0,370.0 125.0,367.0 131.0,365.0 137.0,364.0 143.0,376.0 149.0,382.0 155.0,384.0 161.0,381.0 167.0,379.0 173.0,377.0 179.0,375.0 185.0,379.0 191.0,375.0 197.0,378.0 203.0,379.0 209.0,372.0 215.0,379.0 221.0,390.0 227.0,388.0 233.0,378.0 239.0,373.0 245.0,380.0 251.0,383.0 257.0,388.0 263.0,389.0 269.0,385.0 275.0,386.0 281.0,387.0 287.0,380.0 294.0,375.0 296.0,374.0 302.0,370.0 310.0,366.0 316.0,363.0 322.0,363.0 328.0,358.0 334.0,350.0 340.0,348.0 346.0,344.0 352.0,340.0 358.0,334.0 364.0,328.0 370.0,323.0 376.0,320.0 382.0,313.0 388.0,307.0 394.0,302.0 400.0,298.0 408.0,294.0 418.0,284.0 428.0,276.0 438.0,271.0 448.0,264.0 458.0,256.0 466.0,247.0 476.0,242.0 486.0,240.0 496.0,231.0 506.0,224.0 516.0,217.0 529.0,205.0 534.0,200.0 542.0,193.0 550.0,186.0 558.0,183.0 566.0,183.0 574.0,178.0 582.0,174.0 590.0,170.0 598.0,167.0 606.0,167.0 614.0,169.0 622.0,167.0 630.0,163.0 638.0,160.0 646.0,161.0 654.0,160.0 662.0,160.0 670.0,160.0 678.0,161.0 686.0,161.0 688.0,162.0 696.0,161.0 704.0,160.0 712.0,163.0 720.0,168.0 728.0,172.0 736.0,176.0 744.0,180.0 752.0,183.0 760.0,187.0 768.0,192.0 774.0,201.0 782.0,208.0 790.0,211.0 798.0,213.0 806.0,217.0 814.0,223.0 822.0,231.0 830.0,237.0 838.0,241.0 846.0,247.0 854.0,255.0 862.0,262.0 870.0,263.0 878.0,264.0 886.0,270.0 894.0,278.0 902.0,282.0 910.0,285.0 918.0,290.0 926.0,300.0 934.0,296.0 942.0,294.0 950.0,306.0 958.0,318.0 966.0,326.0 974.0,333.0 982.0,338.0 990.0,343.0 998.0,340.0 1006.0,339.0 1014.0,342.0 1022.0,346.0 1030.0,349.0 1036.0,344.0 1040.0,332.0 1046.0,332.0 1052.0,338.0 1059.0,341.0 1060.0,342.0 1068.0,350.0 1076.0,356.0 1084.0,363.0 1092.0,363.0 1098.0,372.0 1104.0,366.0 1110.0,360.0 1116.0,358.0 1120.0,366.0 1126.0,369.0 1132.0,367.0 1138.0,366.0 1144.0,368.0 1150.0,371.0 1156.0,373.0 1162.0,372.0 1169.4,373.0" fill="none" stroke="#f04848" stroke-width="1.7" stroke-linejoin="round" stroke-dasharray="7 5"/>
<polyline points="59.0,393.0 65.0,392.0 71.0,384.0 77.0,379.0 83.0,376.0 89.0,373.0 95.0,370.0 98.0,371.0 101.0,376.0 104.0,382.0 107.0,388.0 113.0,391.0 119.0,385.0 125.0,375.0 131.0,372.0 137.0,374.0 143.0,377.0 149.0,375.0 155.0,386.0 161.0,391.0 167.0,384.0 173.0,370.0 179.0,369.0 185.0,376.0 191.0,380.0 197.0,377.0 203.0,375.0 209.0,379.0 215.0,384.0 221.0,384.0 227.0,380.0 233.0,392.0 239.0,388.0 245.0,388.0 251.0,390.0 257.0,389.0 263.0,370.0 269.0,369.0 275.0,380.0 281.0,381.0 287.0,374.0 294.0,364.0 296.0,370.0 302.0,376.0 308.0,381.0 314.0,381.0 320.0,378.0 326.0,367.0 332.0,356.0 338.0,354.0 344.0,350.0 350.0,343.0 356.0,338.0 360.0,335.0 366.0,346.0 374.0,349.0 380.0,340.0 386.0,326.0 392.0,318.0 398.0,316.0 404.0,310.0 410.0,303.0 420.0,289.0 428.0,280.0 434.0,289.0 442.0,274.0 450.0,268.0 458.0,260.0 466.0,257.0 474.0,250.0 482.0,244.0 490.0,242.0 500.0,231.0 508.0,225.0 518.0,218.0 529.0,208.0 534.0,206.0 542.0,203.0 550.0,202.0 558.0,203.0 566.0,201.0 570.0,198.0 578.0,190.0 586.0,186.0 594.0,183.0 602.0,180.0 610.0,176.0 618.0,172.0 626.0,171.0 634.0,172.0 642.0,170.0 650.0,167.0 658.0,164.0 666.0,168.0 674.0,164.0 682.0,168.0 690.0,170.0 692.0,171.0 698.0,173.0 704.0,174.0 710.0,173.0 716.0,173.0 722.0,173.0 728.0,178.0 734.0,182.0 740.0,186.0 746.0,189.0 752.0,191.0 758.0,195.0 764.0,198.0 770.0,200.0 772.0,207.0 780.0,213.0 788.0,216.0 796.0,220.0 804.0,225.0 812.0,231.0 820.0,237.0 828.0,242.0 836.0,245.0 844.0,252.0 852.0,255.0 860.0,264.0 868.0,273.0 876.0,278.0 884.0,279.0 890.0,288.0 896.0,290.0 904.0,291.0 912.0,290.0 920.0,294.0 928.0,305.0 936.0,313.0 944.0,317.0 952.0,319.0 960.0,328.0 968.0,337.0 976.0,335.0 984.0,340.0 992.0,345.0 1000.0,339.0 1008.0,342.0 1016.0,354.0 1024.0,362.0 1032.0,363.0 1040.0,369.0 1048.0,361.0 1054.0,354.0 1059.0,350.0 1060.0,362.0 1066.0,377.0 1072.0,370.0 1078.0,365.0 1084.0,367.0 1090.0,376.0 1096.0,382.0 1102.0,385.0 1108.0,387.0 1114.0,387.0 1120.0,384.0 1126.0,385.0 1132.0,388.0 1138.0,384.0 1144.0,386.0 1150.0,381.0 1156.0,380.0 1162.0,384.0 1166.0,389.0 1169.4,393.0" fill="none" stroke="#5555ff" stroke-width="1.7" stroke-linejoin="round" stroke-dasharray="7 5"/>
<polyline points="59.0,377.0 62.1,343.0 65.1,309.0 68.2,323.0 71.2,348.0 74.3,344.0 77.3,331.0 80.4,328.0 83.4,370.0 86.5,415.0 89.5,417.0 92.6,412.0 95.6,420.0 98.7,450.0 101.7,453.0 104.8,458.0 107.8,464.0 110.9,454.0 113.9,430.0 117.0,394.0 120.0,356.0 123.1,321.0 126.1,323.0 129.2,329.0 132.2,335.6 135.3,347.0 138.3,383.0 141.4,386.0 144.4,394.0 147.5,366.0 150.5,343.0 153.6,330.0 156.6,336.0 159.7,370.0 162.7,351.0 165.8,365.0 168.8,404.0 171.9,425.0 174.9,446.4 178.0,416.0 181.0,375.0 184.1,385.0 187.1,313.0 190.2,307.6 193.2,321.0 196.3,325.6 199.3,330.0 202.4,337.0 205.4,350.0 208.5,365.6 211.5,347.0 214.6,338.6 217.6,342.4 220.7,363.0 223.7,379.0 226.8,393.0 229.8,357.0 232.9,354.0 235.9,325.0 239.0,337.6 242.0,335.0 245.1,366.0 248.2,362.0 251.2,357.6 254.3,377.0 257.3,390.0 260.4,386.0 263.4,348.0 266.5,300.0 269.5,267.4 272.6,281.0 275.6,282.0 278.7,293.0 281.7,345.0 284.8,336.0 287.8,351.0 290.9,366.0 293.9,344.0 297.0,365.0 300.0,377.0 303.1,376.0 306.1,384.0 309.2,370.0 312.2,359.0 315.3,376.0 318.3,392.0 321.4,400.0 324.4,407.0 327.5,415.0 330.5,421.4 333.6,412.0 336.6,406.0 339.7,375.0 342.7,316.0 345.8,295.6 348.8,306.0 351.9,342.4 354.9,342.4 358.0,288.0 361.0,280.0 364.1,289.0 367.1,309.0 370.2,330.0 373.2,357.6 376.3,358.4 379.3,359.0 382.4,350.0 385.4,342.4 388.5,343.0 391.5,328.0 394.6,326.4 397.6,324.0 400.7,319.0 403.7,309.0 406.8,295.0 409.8,281.0 412.9,278.0 415.9,270.0 419.0,266.4 422.0,264.0 425.1,258.4 428.1,273.0 431.2,251.0 434.3,257.0 437.3,237.6 440.4,243.6 443.4,260.0 446.5,274.0 449.5,309.0 452.6,297.0 455.6,282.0 458.7,304.0 461.7,286.0 464.8,260.0 467.8,234.0 470.9,211.0 473.9,192.0 477.0,187.0 480.0,183.6 483.1,188.0 486.1,200.0 489.2,223.0 492.2,238.0 495.3,250.0 498.3,262.0 501.4,264.4 504.4,259.0 507.5,246.0 510.5,235.0 513.6,242.0 516.6,239.0 519.7,222.0 522.7,208.0 525.8,212.0 528.8,229.0 531.9,229.0 534.9,236.0 538.0,240.4 541.0,245.0 544.1,239.0 547.1,233.0 550.2,229.0 553.2,226.0 556.3,218.0 559.3,186.0 562.4,162.0 565.4,166.0 568.5,165.6 571.5,164.4 574.6,167.6 577.6,171.0 580.7,174.4 583.7,177.0 586.8,177.6 589.8,179.6 592.9,181.0 595.9,172.4 599.0,175.0 602.0,182.0 605.1,179.0 608.1,177.0 611.2,178.0 614.2,177.6 617.3,179.0 620.4,182.0 623.4,181.6 626.5,191.6 629.5,184.0 632.6,175.6 635.6,176.0 638.7,174.4 641.7,187.0 644.8,163.0 647.8,138.6 650.9,139.0 653.9,139.6 657.0,141.0 660.0,141.6 663.1,141.6 666.1,135.0 669.2,142.4 672.2,147.0 675.3,151.0 678.3,147.6 681.4,144.0 684.4,145.6 687.5,150.0 690.5,161.0 693.6,158.0 696.6,162.0 699.7,164.0 702.7,172.0 705.8,180.0 708.8,184.4 711.9,184.0 714.9,187.0 718.0,190.0 721.0,189.0 724.1,199.0 727.1,190.0 730.2,182.0 733.2,187.0 736.3,176.4 739.3,201.0 742.4,195.0 745.4,201.0 748.5,186.4 751.5,186.4 754.6,203.6 757.6,180.0 760.7,153.0 763.7,140.0 766.8,141.0 769.8,150.0 772.9,166.0 775.9,177.0 779.0,186.0 782.0,192.0 785.1,191.0 788.1,177.0 791.2,194.0 794.2,205.6 797.3,197.0 800.4,193.0 803.4,194.4 806.5,195.0 809.5,221.0 812.6,218.0 815.6,242.0 818.7,248.0 821.7,237.0 824.8,239.0 827.8,234.4 830.9,241.0 833.9,241.0 837.0,228.0 840.0,225.6 843.1,239.0 846.1,232.0 849.2,240.4 852.2,244.0 855.3,242.0 858.3,252.0 861.4,238.4 864.4,237.0 867.5,228.0 870.5,234.0 873.6,222.0 876.6,234.0 879.7,246.0 882.7,253.0 885.8,253.0 888.8,268.0 891.9,278.0 894.9,288.0 898.0,297.0 901.0,279.0 904.1,286.0 907.1,299.6 910.2,296.0 913.2,288.0 916.3,275.0 919.3,300.0 922.4,315.0 925.4,274.0 928.5,271.0 931.5,251.0 934.6,259.0 937.6,226.0 940.7,212.0 943.7,250.0 946.8,280.0 949.8,301.0 952.9,325.6 955.9,312.0 959.0,285.0 962.0,289.0 965.1,299.0 968.1,309.0 971.2,334.0 974.2,346.0 977.3,366.0 980.3,359.0 983.4,352.0 986.5,363.0 989.5,341.0 992.6,322.0 995.6,336.0 998.7,345.0 1001.7,306.0 1004.8,300.0 1007.8,313.0 1010.9,306.0 1013.9,308.4 1017.0,289.0 1020.0,283.0 1023.1,259.0 1026.1,231.5 1029.2,236.0 1032.2,268.0 1035.3,313.6 1038.3,300.0 1041.4,280.0 1044.4,263.6 1047.5,297.0 1050.5,308.0 1053.6,318.0 1056.6,325.0 1059.7,332.0 1062.7,342.0 1065.8,361.0 1068.8,372.0 1071.9,363.0 1074.9,378.0 1078.0,378.0 1081.0,387.0 1084.1,381.0 1087.1,362.0 1090.2,343.0 1093.2,344.4 1096.3,341.0 1099.3,364.4 1102.4,360.0 1105.4,360.0 1108.5,338.0 1111.5,335.0 1114.6,330.0 1117.6,336.0 1120.7,351.0 1123.7,334.0 1126.8,306.0" fill="none" stroke="#000" stroke-width="2.5" stroke-linejoin="round" stroke-linecap="round"/>
<rect x="59.0" y="59.0" width="1110.5" height="467.2" fill="none" stroke="#333" stroke-width="1.3"/>
<path d="M59.00 526.2v7.5M62.05 526.2v7.5M65.10 526.2v7.5M68.15 526.2v7.5M71.20 526.2v7.5M74.25 526.2v7.5M77.30 526.2v7.5M80.36 526.2v7.5M83.41 526.2v7.5M86.46 526.2v7.5M89.51 526.2v7.5M92.56 526.2v7.5M95.61 526.2v7.5M98.66 526.2v7.5M101.71 526.2v7.5M104.76 526.2v7.5M107.81 526.2v7.5M110.86 526.2v7.5M113.91 526.2v7.5M116.97 526.2v7.5M120.02 526.2v7.5M123.07 526.2v7.5M126.12 526.2v7.5M129.17 526.2v7.5M132.22 526.2v7.5M135.27 526.2v7.5M138.32 526.2v7.5M141.37 526.2v7.5M144.42 526.2v7.5M147.47 526.2v7.5M150.52 526.2v7.5M153.58 526.2v7.5M156.63 526.2v7.5M159.68 526.2v7.5M162.73 526.2v7.5M165.78 526.2v7.5M168.83 526.2v7.5M171.88 526.2v7.5M174.93 526.2v7.5M177.98 526.2v7.5M181.03 526.2v7.5M184.08 526.2v7.5M187.13 526.2v7.5M190.19 526.2v7.5M193.24 526.2v7.5M196.29 526.2v7.5M199.34 526.2v7.5M202.39 526.2v7.5M205.44 526.2v7.5M208.49 526.2v7.5M211.54 526.2v7.5M214.59 526.2v7.5M217.64 526.2v7.5M220.69 526.2v7.5M223.74 526.2v7.5M226.80 526.2v7.5M229.85 526.2v7.5M232.90 526.2v7.5M235.95 526.2v7.5M239.00 526.2v7.5M242.05 526.2v7.5M245.10 526.2v7.5M248.15 526.2v7.5M251.20 526.2v7.5M254.25 526.2v7.5M257.30 526.2v7.5M260.35 526.2v7.5M263.41 526.2v7.5M266.46 526.2v7.5M269.51 526.2v7.5M272.56 526.2v7.5M275.61 526.2v7.5M278.66 526.2v7.5M281.71 526.2v7.5M284.76 526.2v7.5M287.81 526.2v7.5M290.86 526.2v7.5M293.91 526.2v7.5M296.96 526.2v7.5M300.02 526.2v7.5M303.07 526.2v7.5M306.12 526.2v7.5M309.17 526.2v7.5M312.22 526.2v7.5M315.27 526.2v7.5M318.32 526.2v7.5M321.37 526.2v7.5M324.42 526.2v7.5M327.47 526.2v7.5M330.52 526.2v7.5M333.57 526.2v7.5M336.62 526.2v7.5M339.68 526.2v7.5M342.73 526.2v7.5M345.78 526.2v7.5M348.83 526.2v7.5M351.88 526.2v7.5M354.93 526.2v7.5M357.98 526.2v7.5M361.03 526.2v7.5M364.08 526.2v7.5M367.13 526.2v7.5M370.18 526.2v7.5M373.23 526.2v7.5M376.29 526.2v7.5M379.34 526.2v7.5M382.39 526.2v7.5M385.44 526.2v7.5M388.49 526.2v7.5M391.54 526.2v7.5M394.59 526.2v7.5M397.64 526.2v7.5M400.69 526.2v7.5M403.74 526.2v7.5M406.79 526.2v7.5M409.84 526.2v7.5M412.90 526.2v7.5M415.95 526.2v7.5M419.00 526.2v7.5M422.05 526.2v7.5M425.10 526.2v7.5M428.15 526.2v7.5M431.20 526.2v7.5M434.25 526.2v7.5M437.30 526.2v7.5M440.35 526.2v7.5M443.40 526.2v7.5M446.45 526.2v7.5M449.51 526.2v7.5M452.56 526.2v7.5M455.61 526.2v7.5M458.66 526.2v7.5M461.71 526.2v7.5M464.76 526.2v7.5M467.81 526.2v7.5M470.86 526.2v7.5M473.91 526.2v7.5M476.96 526.2v7.5M480.01 526.2v7.5M483.06 526.2v7.5M486.12 526.2v7.5M489.17 526.2v7.5M492.22 526.2v7.5M495.27 526.2v7.5M498.32 526.2v7.5M501.37 526.2v7.5M504.42 526.2v7.5M507.47 526.2v7.5M510.52 526.2v7.5M513.57 526.2v7.5M516.62 526.2v7.5M519.67 526.2v7.5M522.73 526.2v7.5M525.78 526.2v7.5M528.83 526.2v7.5M531.88 526.2v7.5M534.93 526.2v7.5M537.98 526.2v7.5M541.03 526.2v7.5M544.08 526.2v7.5M547.13 526.2v7.5M550.18 526.2v7.5M553.23 526.2v7.5M556.28 526.2v7.5M559.34 526.2v7.5M562.39 526.2v7.5M565.44 526.2v7.5M568.49 526.2v7.5M571.54 526.2v7.5M574.59 526.2v7.5M577.64 526.2v7.5M580.69 526.2v7.5M583.74 526.2v7.5M586.79 526.2v7.5M589.84 526.2v7.5M592.89 526.2v7.5M595.95 526.2v7.5M599.00 526.2v7.5M602.05 526.2v7.5M605.10 526.2v7.5M608.15 526.2v7.5M611.20 526.2v7.5M614.25 526.2v7.5M617.30 526.2v7.5M620.35 526.2v7.5M623.40 526.2v7.5M626.45 526.2v7.5M629.50 526.2v7.5M632.55 526.2v7.5M635.61 526.2v7.5M638.66 526.2v7.5M641.71 526.2v7.5M644.76 526.2v7.5M647.81 526.2v7.5M650.86 526.2v7.5M653.91 526.2v7.5M656.96 526.2v7.5M660.01 526.2v7.5M663.06 526.2v7.5M666.11 526.2v7.5M669.16 526.2v7.5M672.22 526.2v7.5M675.27 526.2v7.5M678.32 526.2v7.5M681.37 526.2v7.5M684.42 526.2v7.5M687.47 526.2v7.5M690.52 526.2v7.5M693.57 526.2v7.5M696.62 526.2v7.5M699.67 526.2v7.5M702.72 526.2v7.5M705.77 526.2v7.5M708.83 526.2v7.5M711.88 526.2v7.5M714.93 526.2v7.5M717.98 526.2v7.5M721.03 526.2v7.5M724.08 526.2v7.5M727.13 526.2v7.5M730.18 526.2v7.5M733.23 526.2v7.5M736.28 526.2v7.5M739.33 526.2v7.5M742.38 526.2v7.5M745.44 526.2v7.5M748.49 526.2v7.5M751.54 526.2v7.5M754.59 526.2v7.5M757.64 526.2v7.5M760.69 526.2v7.5M763.74 526.2v7.5M766.79 526.2v7.5M769.84 526.2v7.5M772.89 526.2v7.5M775.94 526.2v7.5M778.99 526.2v7.5M782.05 526.2v7.5M785.10 526.2v7.5M788.15 526.2v7.5M791.20 526.2v7.5M794.25 526.2v7.5M797.30 526.2v7.5M800.35 526.2v7.5M803.40 526.2v7.5M806.45 526.2v7.5M809.50 526.2v7.5M812.55 526.2v7.5M815.60 526.2v7.5M818.66 526.2v7.5M821.71 526.2v7.5M824.76 526.2v7.5M827.81 526.2v7.5M830.86 526.2v7.5M833.91 526.2v7.5M836.96 526.2v7.5M840.01 526.2v7.5M843.06 526.2v7.5M846.11 526.2v7.5M849.16 526.2v7.5M852.21 526.2v7.5M855.27 526.2v7.5M858.32 526.2v7.5M861.37 526.2v7.5M864.42 526.2v7.5M867.47 526.2v7.5M870.52 526.2v7.5M873.57 526.2v7.5M876.62 526.2v7.5M879.67 526.2v7.5M882.72 526.2v7.5M885.77 526.2v7.5M888.82 526.2v7.5M891.88 526.2v7.5M894.93 526.2v7.5M897.98 526.2v7.5M901.03 526.2v7.5M904.08 526.2v7.5M907.13 526.2v7.5M910.18 526.2v7.5M913.23 526.2v7.5M916.28 526.2v7.5M919.33 526.2v7.5M922.38 526.2v7.5M925.43 526.2v7.5M928.48 526.2v7.5M931.54 526.2v7.5M934.59 526.2v7.5M937.64 526.2v7.5M940.69 526.2v7.5M943.74 526.2v7.5M946.79 526.2v7.5M949.84 526.2v7.5M952.89 526.2v7.5M955.94 526.2v7.5M958.99 526.2v7.5M962.04 526.2v7.5M965.09 526.2v7.5M968.15 526.2v7.5M971.20 526.2v7.5M974.25 526.2v7.5M977.30 526.2v7.5M980.35 526.2v7.5M983.40 526.2v7.5M986.45 526.2v7.5M989.50 526.2v7.5M992.55 526.2v7.5M995.60 526.2v7.5M998.65 526.2v7.5M1001.70 526.2v7.5M1004.76 526.2v7.5M1007.81 526.2v7.5M1010.86 526.2v7.5M1013.91 526.2v7.5M1016.96 526.2v7.5M1020.01 526.2v7.5M1023.06 526.2v7.5M1026.11 526.2v7.5M1029.16 526.2v7.5M1032.21 526.2v7.5M1035.26 526.2v7.5M1038.31 526.2v7.5M1041.37 526.2v7.5M1044.42 526.2v7.5M1047.47 526.2v7.5M1050.52 526.2v7.5M1053.57 526.2v7.5M1056.62 526.2v7.5M1059.67 526.2v7.5M1062.72 526.2v7.5M1065.77 526.2v7.5M1068.82 526.2v7.5M1071.87 526.2v7.5M1074.92 526.2v7.5M1077.98 526.2v7.5M1081.03 526.2v7.5M1084.08 526.2v7.5M1087.13 526.2v7.5M1090.18 526.2v7.5M1093.23 526.2v7.5M1096.28 526.2v7.5M1099.33 526.2v7.5M1102.38 526.2v7.5M1105.43 526.2v7.5M1108.48 526.2v7.5M1111.53 526.2v7.5M1114.59 526.2v7.5M1117.64 526.2v7.5M1120.69 526.2v7.5M1123.74 526.2v7.5M1126.79 526.2v7.5M1129.84 526.2v7.5M1132.89 526.2v7.5M1135.94 526.2v7.5M1138.99 526.2v7.5M1142.04 526.2v7.5M1145.09 526.2v7.5M1148.14 526.2v7.5M1151.20 526.2v7.5M1154.25 526.2v7.5M1157.30 526.2v7.5M1160.35 526.2v7.5M1163.40 526.2v7.5M1166.45 526.2v7.5M1169.50 526.2v7.5" stroke="#222" stroke-width="1.1" fill="none"/>
<path d="M59.0 76.2h-7M59.0 122.2h-7M59.0 168.2h-7M59.0 214.2h-7M59.0 260.2h-7M59.0 306.2h-7M59.0 352.2h-7M59.0 398.2h-7M59.0 444.2h-7M59.0 490.2h-7" stroke="#222" stroke-width="1.1" fill="none"/>
<g font-family="'Liberation Sans', Arial, sans-serif" font-size="10.6" fill="#111" text-anchor="middle">
<text transform="translate(42 76.2) rotate(-90) scale(0.8 1)">5</text>
<text transform="translate(42 122.2) rotate(-90) scale(0.8 1)">0</text>
<text transform="translate(42 168.2) rotate(-90) scale(0.8 1)">-5</text>
<text transform="translate(42 214.2) rotate(-90) scale(0.8 1)">-10</text>
<text transform="translate(42 260.2) rotate(-90) scale(0.8 1)">-15</text>
<text transform="translate(42 306.2) rotate(-90) scale(0.8 1)">-20</text>
<text transform="translate(42 352.2) rotate(-90) scale(0.8 1)">-25</text>
<text transform="translate(42 398.2) rotate(-90) scale(0.8 1)">-30</text>
<text transform="translate(42 444.2) rotate(-90) scale(0.8 1)">-35</text>
<text transform="translate(42 490.2) rotate(-90) scale(0.8 1)">-40</text>
</g>
<g font-family="'Liberation Sans', Arial, sans-serif" font-size="9.6" fill="#1c1c1c" text-anchor="middle">
<text transform="translate(58.7 552.7) scale(0.84 1)">sty 01</text>
<text transform="translate(89.2 552.7) scale(0.84 1)">sty 11</text>
<text transform="translate(119.7 552.7) scale(0.84 1)">sty 21</text>
<text transform="translate(150.2 552.7) scale(0.84 1)">sty 31</text>
<text transform="translate(180.7 552.7) scale(0.84 1)">lut 10</text>
<text transform="translate(211.2 552.7) scale(0.84 1)">lut 20</text>
<text transform="translate(244.8 552.7) scale(0.84 1)">mar 03</text>
<text transform="translate(281.4 552.7) scale(0.84 1)">mar 15</text>
<text transform="translate(318.0 552.7) scale(0.84 1)">mar 27</text>
<text transform="translate(351.6 552.7) scale(0.84 1)">kwi 07</text>
<text transform="translate(385.1 552.7) scale(0.84 1)">kwi 18</text>
<text transform="translate(418.7 552.7) scale(0.84 1)">kwi 29</text>
<text transform="translate(452.3 552.7) scale(0.84 1)">maj 10</text>
<text transform="translate(485.8 552.7) scale(0.84 1)">maj 21</text>
<text transform="translate(519.4 552.7) scale(0.84 1)">cze 01</text>
<text transform="translate(552.9 552.7) scale(0.84 1)">cze 12</text>
<text transform="translate(586.5 552.7) scale(0.84 1)">cze 23</text>
<text transform="translate(617.0 552.7) scale(0.84 1)">lip 03</text>
<text transform="translate(647.5 552.7) scale(0.84 1)">lip 13</text>
<text transform="translate(678.0 552.7) scale(0.84 1)">lip 23</text>
<text transform="translate(708.5 552.7) scale(0.84 1)">sie 02</text>
<text transform="translate(739.0 552.7) scale(0.84 1)">sie 12</text>
<text transform="translate(769.5 552.7) scale(0.84 1)">sie 22</text>
<text transform="translate(803.1 552.7) scale(0.84 1)">wrz 02</text>
<text transform="translate(836.7 552.7) scale(0.84 1)">wrz 13</text>
<text transform="translate(870.2 552.7) scale(0.84 1)">wrz 24</text>
<text transform="translate(903.8 552.7) scale(0.84 1)">paź 05</text>
<text transform="translate(937.3 552.7) scale(0.84 1)">paź 16</text>
<text transform="translate(970.9 552.7) scale(0.84 1)">paź 27</text>
<text transform="translate(1001.4 552.7) scale(0.84 1)">lis 06</text>
<text transform="translate(1028.9 552.7) scale(0.84 1)">lis 15</text>
<text transform="translate(1056.3 552.7) scale(0.84 1)">lis 24</text>
<text transform="translate(1086.8 552.7) scale(0.84 1)">gru 04</text>
<text transform="translate(1120.4 552.7) scale(0.84 1)">gru 15</text>
<text transform="translate(1153.9 552.7) scale(0.84 1)">gru 26</text>
</g>
<g font-family="'Liberation Sans', Arial, sans-serif" font-size="12" fill="#111" stroke="#111" stroke-width="0.25" text-anchor="middle">
<text x="614.3" y="581.5">Data</text>
<text transform="translate(14.2 292.5) rotate(-90)">Temperatura</text>
</g>
<g font-family="'Liberation Sans', Arial, sans-serif" font-size="12.25" fill="#151515">
<line x1="97.0" y1="81.5" x2="152.0" y2="81.5" stroke="#000" stroke-width="2.5" stroke-linecap="round"/>
<text x="162.3" y="85.8">2022</text>
<line x1="97.0" y1="95.9" x2="152.0" y2="95.9" stroke="#7a7aff" stroke-width="1.2" stroke-linecap="round"/>
<text x="162.3" y="100.2">1981-1990</text>
<line x1="97.0" y1="110.3" x2="152.0" y2="110.3" stroke="#3c8c3c" stroke-width="0.9" stroke-linecap="round"/>
<text x="162.3" y="114.6">1991-2000</text>
<line x1="97.0" y1="124.7" x2="152.0" y2="124.7" stroke="#f5d54a" stroke-width="1.2" stroke-linecap="round"/>
<text x="162.3" y="129.0">2001-2010</text>
<line x1="97.0" y1="139.1" x2="152.0" y2="139.1" stroke="#ff6a6a" stroke-width="1.1" stroke-linecap="round"/>
<text x="162.3" y="143.4">2011-2020</text>
<line x1="97.0" y1="153.5" x2="152.0" y2="153.5" stroke="#ff0000" stroke-width="1.8" stroke-linecap="round" stroke-dasharray="7 5" stroke-linecap="butt"/>
<text x="162.3" y="157.8">1991-2020</text>
<line x1="97.0" y1="167.9" x2="152.0" y2="167.9" stroke="#0000ff" stroke-width="1.8" stroke-linecap="round" stroke-dasharray="7 5" stroke-linecap="butt"/>
<text x="162.3" y="172.2">1951-1980</text>
<line x1="97.4" y1="182.3" x2="150.6" y2="182.3" stroke="#e6e6e6" stroke-width="4.8" stroke-linecap="round"/>
<text x="162.3" y="186.6">max-min 1950-2021</text>
</g>
<g font-family="'Liberation Mono', 'Courier New', monospace" fill="#3e3e3e">
<text x="58.5" y="19.3" font-size="16.6">Przebieg temperatury w roku 2025</text>
<text x="58.5" y="40.5" font-size="16.6">Region: Grenlandia</text>
<text x="1174.3" y="19" font-size="16.55" text-anchor="end">Dane: Reanaliza ERA5 (ECMWF)</text>
<text x="1159.5" y="38" font-size="10" text-anchor="end" fill="#555">Wizualizacja: Meteomodel.pl</text>
<text x="614" y="53" font-size="11.67" text-anchor="middle" fill="#333">Ostatnie dane: 2025-12-17 (-20°C, anomalia (1981-2010): 7.3°C)</text>
</g>
</svg>
</body></html>
